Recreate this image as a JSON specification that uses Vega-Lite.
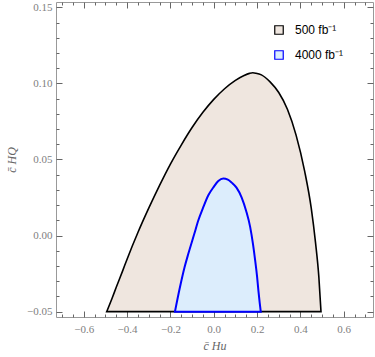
{
  "$schema": "https://vega.github.io/schema/vega-lite/v6.json",
  "width": 317,
  "height": 315,
  "autosize": {"type": "none"},
  "padding": {"left": 56, "top": 2, "right": 2, "bottom": 40},
  "background": "white",
  "config": {
    "view": {"stroke": "#999999", "strokeWidth": 1},
    "axis": {
      "grid": false,
      "ticks": true,
      "domain": false,
      "zindex": 1,
      "tickColor": "#666666",
      "tickWidth": 1,
      "labelFont": "Liberation Serif",
      "labelFontSize": 11,
      "labelColor": "#808080",
      "titleFont": "Liberation Serif",
      "titleFontStyle": "italic",
      "titleFontWeight": "normal",
      "titleFontSize": 12,
      "titleColor": "#666666",
      "labelFlush": false,
      "labelOverlap": false
    }
  },
  "datasets": {
    "outer": [
      {"x": -0.494, "y": -0.05, "s": "500 fb⁻¹"},
      {"x": -0.47, "y": -0.0415, "s": "500 fb⁻¹"},
      {"x": -0.45, "y": -0.034, "s": "500 fb⁻¹"},
      {"x": -0.42, "y": -0.023, "s": "500 fb⁻¹"},
      {"x": -0.40, "y": -0.0155, "s": "500 fb⁻¹"},
      {"x": -0.35, "y": 0.002, "s": "500 fb⁻¹"},
      {"x": -0.30, "y": 0.018, "s": "500 fb⁻¹"},
      {"x": -0.25, "y": 0.033, "s": "500 fb⁻¹"},
      {"x": -0.20, "y": 0.047, "s": "500 fb⁻¹"},
      {"x": -0.15, "y": 0.0595, "s": "500 fb⁻¹"},
      {"x": -0.10, "y": 0.071, "s": "500 fb⁻¹"},
      {"x": -0.05, "y": 0.081, "s": "500 fb⁻¹"},
      {"x": 0.00, "y": 0.0895, "s": "500 fb⁻¹"},
      {"x": 0.05, "y": 0.0965, "s": "500 fb⁻¹"},
      {"x": 0.10, "y": 0.102, "s": "500 fb⁻¹"},
      {"x": 0.14, "y": 0.1052, "s": "500 fb⁻¹"},
      {"x": 0.165, "y": 0.1066, "s": "500 fb⁻¹"},
      {"x": 0.18, "y": 0.107, "s": "500 fb⁻¹"},
      {"x": 0.195, "y": 0.1067, "s": "500 fb⁻¹"},
      {"x": 0.22, "y": 0.1056, "s": "500 fb⁻¹"},
      {"x": 0.26, "y": 0.101, "s": "500 fb⁻¹"},
      {"x": 0.30, "y": 0.094, "s": "500 fb⁻¹"},
      {"x": 0.34, "y": 0.083, "s": "500 fb⁻¹"},
      {"x": 0.38, "y": 0.066, "s": "500 fb⁻¹"},
      {"x": 0.42, "y": 0.042, "s": "500 fb⁻¹"},
      {"x": 0.45, "y": 0.018, "s": "500 fb⁻¹"},
      {"x": 0.47, "y": -0.005, "s": "500 fb⁻¹"},
      {"x": 0.485, "y": -0.027, "s": "500 fb⁻¹"},
      {"x": 0.495, "y": -0.05, "s": "500 fb⁻¹"}
    ],
    "inner": [
      {"x": -0.179, "y": -0.05, "s": "4000 fb⁻¹"},
      {"x": -0.156, "y": -0.034, "s": "4000 fb⁻¹"},
      {"x": -0.135, "y": -0.021, "s": "4000 fb⁻¹"},
      {"x": -0.117, "y": -0.0118, "s": "4000 fb⁻¹"},
      {"x": -0.09, "y": 0.001, "s": "4000 fb⁻¹"},
      {"x": -0.071, "y": 0.0101, "s": "4000 fb⁻¹"},
      {"x": -0.05, "y": 0.018, "s": "4000 fb⁻¹"},
      {"x": -0.025, "y": 0.0265, "s": "4000 fb⁻¹"},
      {"x": 0.0, "y": 0.032, "s": "4000 fb⁻¹"},
      {"x": 0.021, "y": 0.0358, "s": "4000 fb⁻¹"},
      {"x": 0.044, "y": 0.0375, "s": "4000 fb⁻¹"},
      {"x": 0.065, "y": 0.0368, "s": "4000 fb⁻¹"},
      {"x": 0.083, "y": 0.0348, "s": "4000 fb⁻¹"},
      {"x": 0.105, "y": 0.0315, "s": "4000 fb⁻¹"},
      {"x": 0.129, "y": 0.025, "s": "4000 fb⁻¹"},
      {"x": 0.15, "y": 0.016, "s": "4000 fb⁻¹"},
      {"x": 0.168, "y": 0.0057, "s": "4000 fb⁻¹"},
      {"x": 0.181, "y": -0.0055, "s": "4000 fb⁻¹"},
      {"x": 0.191, "y": -0.0162, "s": "4000 fb⁻¹"},
      {"x": 0.2, "y": -0.027, "s": "4000 fb⁻¹"},
      {"x": 0.206, "y": -0.036, "s": "4000 fb⁻¹"},
      {"x": 0.212, "y": -0.044, "s": "4000 fb⁻¹"},
      {"x": 0.217, "y": -0.05, "s": "4000 fb⁻¹"}
    ]
  },
  "layer": [
    {
      "data": {"name": "outer"},
      "mark": {"type": "area", "strokeWidth": 1.6, "interpolate": "monotone", "fillOpacity": 1},
      "encoding": {
        "x": {
          "field": "x", "type": "quantitative",
          "scale": {"domain": [-0.728, 0.735], "nice": false, "zero": false},
          "axis": {
            "orient": "bottom",
            "title": "c̄ Hu",
            "titlePadding": 6,
            "values": [-0.6, -0.4, -0.2, 0, 0.2, 0.4, 0.6],
            "format": ".1f",
            "offset": -6,
            "tickSize": 6,
            "labelPadding": 6
          }
        },
        "y": {
          "field": "y", "type": "quantitative",
          "scale": {"domain": [-0.0535, 0.1535], "nice": false, "zero": false},
          "axis": {
            "orient": "left",
            "title": "c̄ HQ",
            "titlePadding": 8,
            "values": [-0.05, 0, 0.05, 0.1, 0.15],
            "format": ".2f",
            "offset": -6,
            "tickSize": 6,
            "labelPadding": 4
          }
        },
        "y2": {"datum": -0.05},
        "fill": {
          "field": "s", "type": "nominal",
          "scale": {"domain": ["500 fb⁻¹", "4000 fb⁻¹"], "range": ["#EFE6DF", "#DCEDFC"]},
          "legend": {
            "title": null, "orient": "none", "legendX": 217, "legendY": 22,
            "symbolType": "square", "symbolSize": 72, "symbolStrokeWidth": 1.2,
            "labelFont": "Liberation Sans", "labelFontSize": 12, "labelColor": "black",
            "labelOffset": 10, "rowPadding": 11, "padding": 0
          }
        },
        "stroke": {
          "field": "s", "type": "nominal",
          "scale": {"domain": ["500 fb⁻¹", "4000 fb⁻¹"], "range": ["#000000", "#0000FF"]},
          "legend": {
            "title": null, "orient": "none", "legendX": 217, "legendY": 22,
            "symbolType": "square", "symbolSize": 72, "symbolStrokeWidth": 1.2,
            "labelFont": "Liberation Sans", "labelFontSize": 12, "labelColor": "black",
            "labelOffset": 10, "rowPadding": 11, "padding": 0
          }
        }
      }
    },
    {
      "data": {"name": "inner"},
      "mark": {"type": "area", "strokeWidth": 2, "interpolate": "monotone", "fillOpacity": 1},
      "encoding": {
        "x": {
          "field": "x", "type": "quantitative",
          "scale": {"domain": [-0.728, 0.735], "nice": false, "zero": false},
          "axis": {
            "orient": "top", "title": null, "labels": false,
            "values": [-0.6, -0.4, -0.2, 0, 0.2, 0.4, 0.6],
            "offset": -6, "tickSize": 6
          }
        },
        "y": {
          "field": "y", "type": "quantitative",
          "scale": {"domain": [-0.0535, 0.1535], "nice": false, "zero": false},
          "axis": {
            "orient": "right", "title": null, "labels": false,
            "values": [-0.05, 0, 0.05, 0.1, 0.15],
            "offset": -6, "tickSize": 6
          }
        },
        "y2": {"datum": -0.05},
        "fill": {"field": "s", "type": "nominal"},
        "stroke": {"field": "s", "type": "nominal"}
      }
    },
    {
      "data": {"name": "outer"},
      "mark": {"type": "point", "opacity": 0},
      "encoding": {
        "x": {
          "field": "x", "type": "quantitative",
          "scale": {"domain": [-0.728, 0.735], "nice": false, "zero": false},
          "axis": {
            "orient": "bottom", "title": null, "labels": false,
            "values": [-0.7,-0.65,-0.55,-0.5,-0.45,-0.35,-0.3,-0.25,-0.15,-0.1,-0.05,0.05,0.1,0.15,0.25,0.3,0.35,0.45,0.5,0.55,0.65,0.7],
            "offset": -3, "tickSize": 3
          }
        },
        "y": {
          "field": "y", "type": "quantitative",
          "scale": {"domain": [-0.0535, 0.1535], "nice": false, "zero": false},
          "axis": {
            "orient": "left", "title": null, "labels": false,
            "values": [-0.04,-0.03,-0.02,-0.01,0.01,0.02,0.03,0.04,0.06,0.07,0.08,0.09,0.11,0.12,0.13,0.14],
            "offset": -3, "tickSize": 3
          }
        }
      }
    },
    {
      "data": {"name": "outer"},
      "mark": {"type": "point", "opacity": 0},
      "encoding": {
        "x": {
          "field": "x", "type": "quantitative",
          "scale": {"domain": [-0.728, 0.735], "nice": false, "zero": false},
          "axis": {
            "orient": "top", "title": null, "labels": false,
            "values": [-0.7,-0.65,-0.55,-0.5,-0.45,-0.35,-0.3,-0.25,-0.15,-0.1,-0.05,0.05,0.1,0.15,0.25,0.3,0.35,0.45,0.5,0.55,0.65,0.7],
            "offset": -3, "tickSize": 3
          }
        },
        "y": {
          "field": "y", "type": "quantitative",
          "scale": {"domain": [-0.0535, 0.1535], "nice": false, "zero": false},
          "axis": {
            "orient": "right", "title": null, "labels": false,
            "values": [-0.04,-0.03,-0.02,-0.01,0.01,0.02,0.03,0.04,0.06,0.07,0.08,0.09,0.11,0.12,0.13,0.14],
            "offset": -3, "tickSize": 3
          }
        }
      }
    }
  ],
  "resolve": {"axis": {"x": "independent", "y": "independent"}}
}
